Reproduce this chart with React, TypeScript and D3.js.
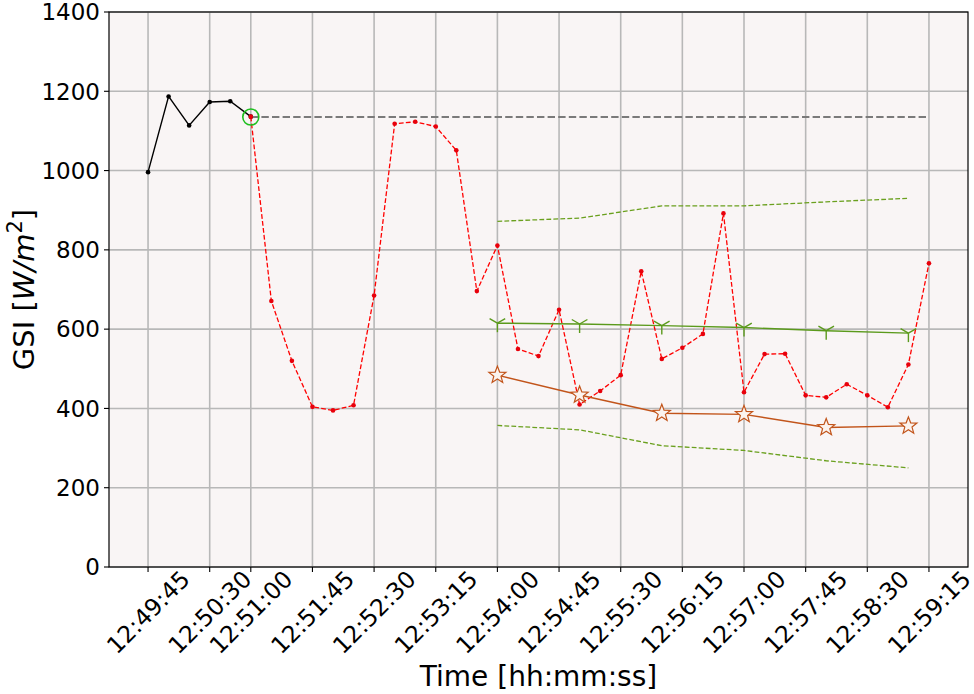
import React from "react";
import * as d3 from "d3";

const xTickLabels = ["12:49:45","12:50:30","12:51:00","12:51:45","12:52:30","12:53:15","12:54:00","12:54:45","12:55:30","12:56:15","12:57:00","12:57:45","12:58:30","12:59:15"];
const yTicks = [0, 200, 400, 600, 800, 1000, 1200, 1400];

const blackTimes = ["12:49:45","12:50:00","12:50:15","12:50:30","12:50:45","12:51:00"];
const blackValues = [996, 1187, 1114, 1173, 1175, 1136];

const redTimes = ["12:51:00","12:51:15","12:51:30","12:51:45","12:52:00","12:52:15","12:52:30","12:52:45","12:53:00","12:53:15","12:53:30","12:53:45","12:54:00","12:54:15","12:54:30","12:54:45","12:55:00","12:55:15","12:55:30","12:55:45","12:56:00","12:56:15","12:56:30","12:56:45","12:57:00","12:57:15","12:57:30","12:57:45","12:58:00","12:58:15","12:58:30","12:58:45","12:59:00","12:59:15"];
const redValues = [1136, 671, 520, 404, 395, 408, 685, 1118, 1123, 1111, 1051, 696, 811, 550, 532, 649, 410, 444, 484, 746, 525, 553, 588, 892, 441, 537, 538, 433, 428, 461, 433, 403, 511, 766];

const refTimes = ["12:51:00", "12:59:15"];
const refValues = [1135, 1135];
const circleTime = "12:51:00";
const circleValue = 1135;

const fcTimes = ["12:54:00","12:55:00","12:56:00","12:57:00","12:58:00","12:59:00"];
const greenValues = [615, 613, 609, 604, 596, 590];
const brownValues = [484, 434, 388, 385, 352, 356];
const upperValues = [872, 880, 911, 911, 921, 930];
const lowerValues = [357, 346, 306, 294, 268, 250];

const toSec = (s: string) => {
  const [h, m, sec] = s.split(":").map(Number);
  return h * 3600 + m * 60 + sec;
};

const W = 974, H = 694;
const L = 109, R = 968, T = 12, B = 567;
const FONT = "DejaVu Sans, sans-serif";

const t0 = toSec("12:49:45"), t1 = toSec("12:59:15");
const pad = (t1 - t0) * 0.05;
const x = d3.scaleLinear().domain([t0 - pad, t1 + pad]).range([L, R]);
const y = d3.scaleLinear().domain([0, 1400]).range([B, T]);

type P = [number, number];
const pts = (times: string[], vals: number[]): P[] => times.map((t, i) => [x(toSec(t)), y(vals[i])]);
const line = d3.line<P>().x(d => d[0]).y(d => d[1]);

const starPath = (() => {
  const ro = 9, ri = 3.8;
  const p: string[] = [];
  for (let i = 0; i < 10; i++) {
    const r = i % 2 === 0 ? ro : ri;
    const a = -Math.PI / 2 + (i * Math.PI) / 5;
    p.push(`${(r * Math.cos(a)).toFixed(2)},${(r * Math.sin(a)).toFixed(2)}`);
  }
  return "M" + p.join("L") + "Z";
})();

export default function App() {
  const black = pts(blackTimes, blackValues);
  const red = pts(redTimes, redValues);
  const ref = pts(refTimes, refValues);
  const green = pts(fcTimes, greenValues);
  const brown = pts(fcTimes, brownValues);
  const upper = pts(fcTimes, upperValues);
  const lower = pts(fcTimes, lowerValues);
  const GREEN = "#5b9a1c";
  const DGREEN = "#6aa01e";
  const BROWN = "#c2541a";
  const labelCY = 612;
  return (
    <div style={{ position: "absolute", left: 0, top: 0 }}>
      <svg width={W} height={H} style={{ display: "block", background: "#fff" }}>
        <rect x={L} y={T} width={R - L} height={B - T} fill="#f9f5f5" />
        {xTickLabels.map(s => (
          <line key={"gx" + s} x1={x(toSec(s))} x2={x(toSec(s))} y1={T} y2={B} stroke="#b8b8b8" strokeWidth={1.6} />
        ))}
        {yTicks.map(v => (
          <line key={"gy" + v} x1={L} x2={R} y1={y(v)} y2={y(v)} stroke="#b8b8b8" strokeWidth={1.6} />
        ))}
        <path d={line(ref) || ""} fill="none" stroke="#7a7a7a" strokeWidth={2} strokeDasharray="7.4,3.2" />
        <path d={line(upper) || ""} fill="none" stroke={DGREEN} strokeWidth={1.3} strokeDasharray="4.8,2.2" />
        <path d={line(lower) || ""} fill="none" stroke={DGREEN} strokeWidth={1.3} strokeDasharray="4.8,2.2" />
        <path d={line(black) || ""} fill="none" stroke="#000" strokeWidth={1.4} />
        {black.map((p, i) => <circle key={"b" + i} cx={p[0]} cy={p[1]} r={2.3} fill="#000" />)}
        <path d={line(red) || ""} fill="none" stroke="#ff0000" strokeWidth={1.3} strokeDasharray="4.8,2.2" />
        {red.map((p, i) => <circle key={"r" + i} cx={p[0]} cy={p[1]} r={2.3} fill="#e8000b" />)}
        <path d={line(green) || ""} fill="none" stroke={GREEN} strokeWidth={1.4} />
        {green.map((p, i) => (
          <g key={"g" + i} transform={`translate(${p[0]},${p[1]})`} stroke={GREEN} strokeWidth={1.4}>
            <line x1={0} y1={0} x2={0} y2={9} />
            <line x1={0} y1={0} x2={-7.8} y2={-4.5} />
            <line x1={0} y1={0} x2={7.8} y2={-4.5} />
          </g>
        ))}
        <path d={line(brown) || ""} fill="none" stroke={BROWN} strokeWidth={1.4} />
        {brown.map((p, i) => (
          <path key={"s" + i} d={starPath} transform={`translate(${p[0]},${p[1]})`} fill="#fbf3ee" stroke={BROWN} strokeWidth={1.2} />
        ))}
        <circle cx={x(toSec(circleTime))} cy={y(circleValue)} r={8} fill="none" stroke="#1fbf1f" strokeWidth={1.6} />
        <rect x={L} y={T} width={R - L} height={B - T} fill="none" stroke="#000" strokeWidth={1.2} />
        {yTicks.map(v => (
          <g key={"yt" + v}>
            <line x1={L - 5} x2={L} y1={y(v)} y2={y(v)} stroke="#000" strokeWidth={1.1} />
            <text x={L - 9} y={y(v)} dy="0.36em" textAnchor="end" fontFamily={FONT} fontSize={23} fill="#000">{v}</text>
          </g>
        ))}
        {xTickLabels.map(s => {
          const xx = x(toSec(s));
          return (
            <g key={"xt" + s}>
              <line x1={xx} x2={xx} y1={B} y2={B + 5} stroke="#000" strokeWidth={1.1} />
              <text transform={`translate(${xx},${labelCY}) rotate(-45)`} textAnchor="middle" dy="0.36em" fontFamily={FONT} fontSize={23.5} fill="#000">{s}</text>
            </g>
          );
        })}
        <text x={(L + R) / 2} y={686} textAnchor="middle" fontFamily={FONT} fontSize={28} fill="#000">Time [hh:mm:ss]</text>
        <text transform={`translate(34,${(T + B) / 2}) rotate(-90)`} textAnchor="middle" fontFamily={FONT} fontSize={29} fill="#000">
          GSI [<tspan fontStyle="italic">W</tspan><tspan fontStyle="italic">/m</tspan><tspan dy={-12} fontSize={21}>2</tspan><tspan dy={12}>]</tspan>
        </text>
      </svg>
    </div>
  );
}
